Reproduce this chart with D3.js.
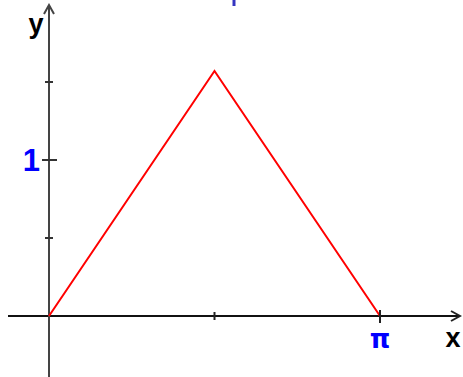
<!DOCTYPE html>
<html>
<head>
<meta charset="utf-8">
<script src="https://cdn.jsdelivr.net/npm/d3@7"></script>
<style>
  html, body { margin: 0; padding: 0; background: #fff; }
  svg { display: block; }
</style>
</head>
<body>
<svg id="chart" width="463" height="377"></svg>
<script>
// Triangle wave on [0, π]: rises to π/2 at x = π/2, back to 0 at x = π
const xValues = [0, Math.PI / 2, Math.PI];
const yValues = [0, Math.PI / 2, 0];

// Axis ticks
const xTicks = [Math.PI / 2, Math.PI];
const xTickLabels = ["", "π"];
const yTicks = [0.5, 1, 1.5];
const yTickLabels = ["", "1", ""];

const W = 463, H = 377;
const svg = d3.select("#chart");

const x = d3.scaleLinear().domain([0, Math.PI]).range([49, 380]);
const y = d3.scaleLinear().domain([0, 1]).range([316, 160]);

const xMin = x.invert(8), xMax = x.invert(460);
const yMin = y.invert(H), yMax = y.invert(5);

// Arrow heads
const defs = svg.append("defs");
function arrow(id, color) {
  defs.append("marker")
    .attr("id", id)
    .attr("viewBox", "0 0 12 12")
    .attr("refX", 10).attr("refY", 6)
    .attr("markerWidth", 12).attr("markerHeight", 12)
    .attr("markerUnits", "userSpaceOnUse")
    .attr("orient", "auto")
    .append("path")
    .attr("d", "M1,1 L10,6 L1,11")
    .attr("fill", "none")
    .attr("stroke", color)
    .attr("stroke-width", 2);
}
arrow("arrX", "#222");
arrow("arrY", "#444");

// Function graph
const line = d3.line().x((d, i) => x(xValues[i])).y(d => y(d));

// x axis
svg.append("line")
  .attr("x1", x(xMin)).attr("x2", x(xMax))
  .attr("y1", y(0)).attr("y2", y(0))
  .attr("stroke", "#111").attr("stroke-width", 2.2)
  .attr("marker-end", "url(#arrX)");

// y axis
svg.append("line")
  .attr("x1", x(0)).attr("x2", x(0))
  .attr("y1", y(yMin)).attr("y2", y(yMax))
  .attr("stroke", "#444").attr("stroke-width", 2)
  .attr("marker-end", "url(#arrY)");

svg.append("path")
  .datum(yValues)
  .attr("d", line)
  .attr("fill", "none")
  .attr("stroke", "#ff0000")
  .attr("stroke-width", 2);

// x ticks
svg.selectAll(".xt").data(xTicks).join("line")
  .attr("x1", d => x(d)).attr("x2", d => x(d))
  .attr("y1", (d, i) => y(0) - (xTickLabels[i] ? 6 : 4))
  .attr("y2", (d, i) => y(0) + (xTickLabels[i] ? 7 : 4))
  .attr("stroke", "#222").attr("stroke-width", 2);

svg.selectAll(".xl").data(xTicks).join("text")
  .attr("x", d => x(d)).attr("y", 348)
  .attr("text-anchor", "middle")
  .attr("font-family", "DejaVu Sans, sans-serif")
  .attr("font-weight", "bold").attr("font-size", 26)
  .attr("fill", "#0000ff")
  .text((d, i) => xTickLabels[i]);

// y ticks
svg.selectAll(".yt").data(yTicks).join("line")
  .attr("x1", (d, i) => x(0) - (yTickLabels[i] ? 7 : 4))
  .attr("x2", (d, i) => x(0) + (yTickLabels[i] ? 8 : 4))
  .attr("y1", d => y(d)).attr("y2", d => y(d))
  .attr("stroke", "#333").attr("stroke-width", 2);

svg.selectAll(".yl").data(yTicks).join("text")
  .attr("x", 40).attr("y", d => y(d) + 11)
  .attr("text-anchor", "end")
  .attr("font-family", "Liberation Sans, Arial, sans-serif")
  .attr("font-weight", "bold").attr("font-size", 31)
  .attr("fill", "#0000ff")
  .text((d, i) => yTickLabels[i]);

// Axis names
svg.append("text")
  .attr("x", 36).attr("y", 33)
  .attr("text-anchor", "middle")
  .attr("font-family", "Liberation Sans, Arial, sans-serif")
  .attr("font-weight", "bold").attr("font-size", 27)
  .attr("fill", "#000")
  .text("y");

svg.append("text")
  .attr("x", 453).attr("y", 347)
  .attr("text-anchor", "middle")
  .attr("font-family", "Liberation Sans, Arial, sans-serif")
  .attr("font-weight", "bold").attr("font-size", 27)
  .attr("fill", "#000")
  .text("x");

// Short blue stroke at the top edge
svg.append("line")
  .attr("x1", 234).attr("x2", 234)
  .attr("y1", 0).attr("y2", 6)
  .attr("stroke", "#3535c0").attr("stroke-width", 3);
</script>
</body>
</html>
